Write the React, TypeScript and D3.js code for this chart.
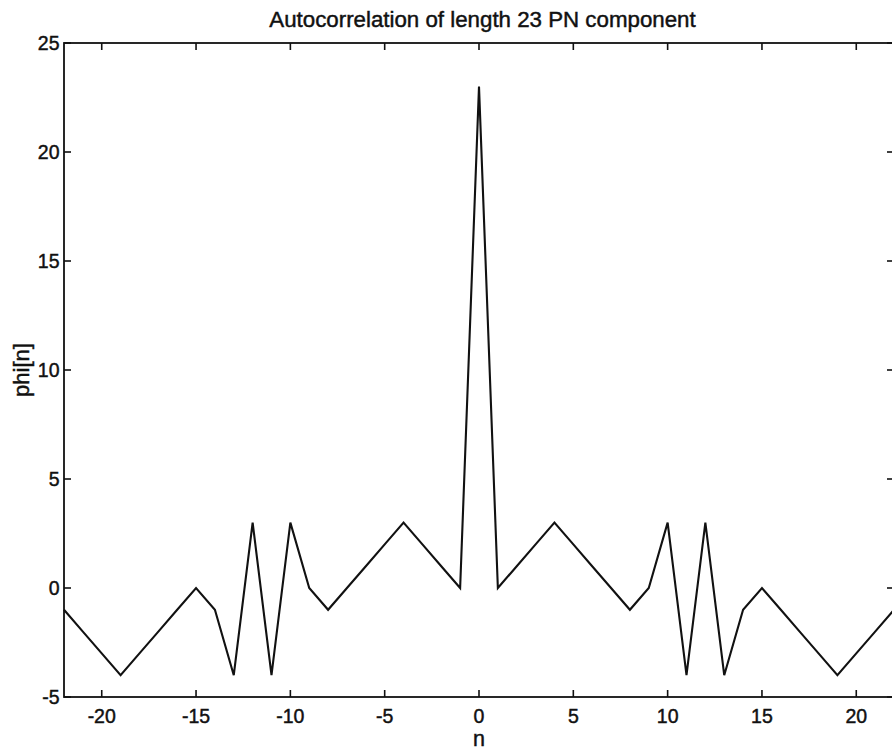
import React from "react";
import * as d3 from "d3";

const lags: number[] = [-22,-21,-20,-19,-18,-17,-16,-15,-14,-13,-12,-11,-10,-9,-8,-7,-6,-5,-4,-3,-2,-1,0,1,2,3,4,5,6,7,8,9,10,11,12,13,14,15,16,17,18,19,20,21,22];
const phi: number[] = [-1,-2,-3,-4,-3,-2,-1,0,-1,-4,3,-4,3,0,-1,0,1,2,3,2,1,0,23,0,1,2,3,2,1,0,-1,0,3,-4,3,-4,-1,0,-1,-2,-3,-4,-3,-2,-1];
const xTicks: number[] = [-20,-15,-10,-5,0,5,10,15,20];
const yTicks: number[] = [-5,0,5,10,15,20,25];
const title = "Autocorrelation of length 23 PN component";
const xLabel = "n";
const yLabel = "phi[n]";

const W = 892, H = 752;
const L = 64, R = 894, T = 43, B = 697;
const FONT = "'Liberation Sans', Arial, Helvetica, sans-serif";
const INK = "#111";

export default function App() {
  const x = d3.scaleLinear().domain([-22, 22]).range([L, R]);
  const y = d3.scaleLinear().domain([-5, 25]).range([B, T]);
  const line = d3.line<number>().x((_, i) => x(lags[i])).y((d) => y(d));
  const tl = 7;
  const txt = { fontFamily: FONT, fill: INK, stroke: INK, strokeWidth: 0.45 } as const;
  return (
    <svg width={W} height={H} style={{ position: "absolute", left: 0, top: 0, background: "#fff" }}>
      <rect x={0} y={0} width={W} height={H} fill="#fff" />
      <text x={482.5} y={26.5} textAnchor="middle" fontSize={22.3} {...txt}>{title}</text>
      <path d={line(phi) || ""} fill="none" stroke={INK} strokeWidth={2.1} strokeLinejoin="miter" />
      <rect x={L} y={T} width={R - L} height={B - T} fill="none" stroke={INK} strokeWidth={1.8} />
      {xTicks.map((t) => (
        <g key={"x" + t}>
          <line x1={x(t)} x2={x(t)} y1={B} y2={B - tl} stroke={INK} strokeWidth={1.6} />
          <line x1={x(t)} x2={x(t)} y1={T} y2={T + tl} stroke={INK} strokeWidth={1.6} />
          <text x={x(t)} y={723} textAnchor="middle" fontSize={19.5} {...txt}>{t}</text>
        </g>
      ))}
      {yTicks.map((t) => (
        <g key={"y" + t}>
          <line x1={L} x2={L + tl} y1={y(t)} y2={y(t)} stroke={INK} strokeWidth={1.6} />
          <line x1={R} x2={R - tl} y1={y(t)} y2={y(t)} stroke={INK} strokeWidth={1.6} />
          <text x={59.5} y={y(t) + 7} textAnchor="end" fontSize={19.5} {...txt}>{t}</text>
        </g>
      ))}
      <text x={(L + R) / 2} y={746} textAnchor="middle" fontSize={21.5} {...txt}>{xLabel}</text>
      <text transform={`translate(28.5,${(T + B) / 2}) rotate(-90)`} textAnchor="middle" fontSize={22} {...txt}>{yLabel}</text>
    </svg>
  );
}
